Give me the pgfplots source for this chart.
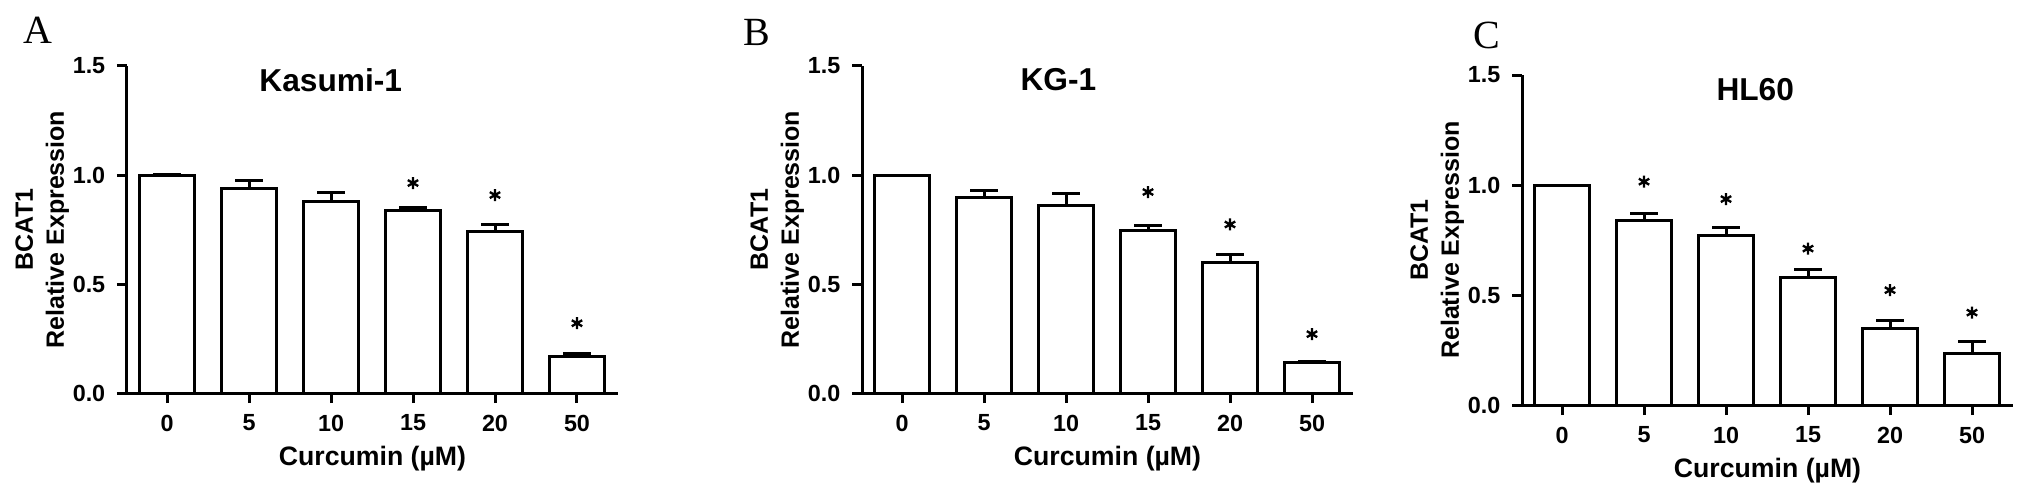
\documentclass[border=0pt]{standalone}
\usepackage{fontspec}
\setmainfont{Liberation Sans}
\newfontfamily\panelfont{Liberation Serif}
\usepackage{pgfplots}
\pgfplotsset{compat=1.18}

\pgfplotsset{
  bcat/.style={
    scale only axis, width=147.3pt, height=98.1pt,
    anchor=south west,
    axis x line*=bottom, axis y line*=left,
    axis line style={line width=0.9pt,-},
    xmin=-0.488, xmax=5.5, ymin=0, ymax=1.5,
    xtick={0,1,2,3,4,5}, xticklabels={0,5,10,15,20,50},
    ytick={0,0.5,1.0,1.5},
    yticklabel style={/pgf/number format/.cd, fixed, fixed zerofill, precision=1},
    /pgf/number format/assume math mode=true,
    tick style={black, line width=0.9pt},
    tick align=outside, major tick length=3pt,
    ticklabel style={font=\bfseries\fontsize{7}{7}\selectfont},
    xlabel={Curcumin (µM)},
    ylabel={BCAT1\\Relative Expression},
    every axis x label/.style={at={(axis description cs:0.5,0)}, yshift=-19.8pt,
      anchor=center, font=\bfseries\fontsize{8}{8}\selectfont},
    every axis y label/.style={at={(axis description cs:0,0.5)}, xshift=-25.4pt,
      rotate=90, anchor=center, align=center, font=\bfseries\fontsize{7.5}{9.3}\selectfont},
    every axis title/.style={anchor=center, font=\bfseries\fontsize{9.5}{9.5}\selectfont},
  },
  bars/.style={ybar, bar width=0.66, fill=white, draw=black, line width=0.9pt,
    error bars/.cd, y dir=plus, y explicit,
    error bar style={line width=0.9pt, black},
    error mark options={rotate=90, mark size=4.2pt, line width=0.9pt, black}},
  stars/.style={only marks, mark=asterisk, mark size=1.8pt, black, line width=0.7pt},
}

\begin{document}
\begin{tikzpicture}
\useasboundingbox (0,0) rectangle (609.3pt,150.3pt);

% A: Kasumi-1
\begin{axis}[bcat, at={(38.1pt,32.4pt)}, title={Kasumi-1},
  title style={at={(axis description cs:0.415,0.957)}}]
\addplot[bars] coordinates {
  (0,1.0)   +- (0,0.003)
  (1,0.94)  +- (0,0.033)
  (2,0.878) +- (0,0.042)
  (3,0.837) +- (0,0.012)
  (4,0.743) +- (0,0.030)
  (5,0.168) +- (0,0.015)
};
\addplot[stars] coordinates {(3,0.963) (4,0.908) (5,0.32)};
\end{axis}

% B: KG-1
\begin{axis}[bcat, at={(258.6pt,32.4pt)}, title={KG-1},
  title style={at={(axis description cs:0.40,0.957)}}]
\addplot[bars] coordinates {
  (0,1.0)   +- (0,0.0)
  (1,0.898) +- (0,0.030)
  (2,0.86)  +- (0,0.056)
  (3,0.746) +- (0,0.023)
  (4,0.598) +- (0,0.039)
  (5,0.138) +- (0,0.007)
};
\addplot[stars] coordinates {(3,0.922) (4,0.773) (5,0.27)};
\end{axis}

% C: HL60
\begin{axis}[bcat, at={(456.6pt,28.8pt)}, height=99pt, title={HL60},
  title style={at={(axis description cs:0.475,0.955)}}]
\addplot[bars] coordinates {
  (0,1.0)   +- (0,0.0)
  (1,0.837) +- (0,0.034)
  (2,0.772) +- (0,0.033)
  (3,0.579) +- (0,0.038)
  (4,0.349) +- (0,0.033)
  (5,0.235) +- (0,0.052)
};
\addplot[stars] coordinates {(1,1.015) (2,0.936) (3,0.711) (4,0.522) (5,0.42)};
\end{axis}

\node[font=\panelfont\fontsize{12}{12}\selectfont] at (11.4pt,141.3pt) {A};
\node[font=\panelfont\fontsize{12}{12}\selectfont] at (227.1pt,140.7pt) {B};
\node[font=\panelfont\fontsize{12}{12}\selectfont] at (446.1pt,139.8pt) {C};
\end{tikzpicture}
\end{document}
